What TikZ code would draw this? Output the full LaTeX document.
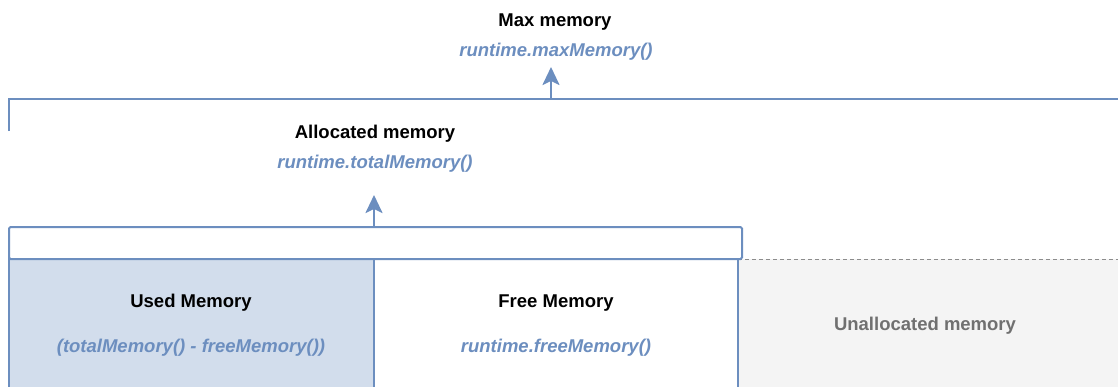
\documentclass[tikz,border=0pt]{standalone}
\usepackage{fontspec}
\setmainfont{Liberation Sans}
\usetikzlibrary{arrows.meta}
\definecolor{bstroke}{HTML}{6C8EBF}
\definecolor{bfill}{HTML}{D2DDEC}
\definecolor{gfill}{HTML}{F4F4F4}
\definecolor{gstroke}{HTML}{8C8C8C}
\definecolor{gtext}{HTML}{707070}
\tikzset{
  title/.style={font=\fontsize{18.5}{20}\selectfont\bfseries, text=black, inner sep=0pt},
  code/.style={font=\fontsize{18.5}{20}\selectfont\bfseries\itshape, text=bstroke, inner sep=0pt},
  line/.style={draw=bstroke, line width=2pt},
  uparrow/.style={draw=bstroke, line width=2.5pt, -{Stealth[length=18pt,width=17pt,inset=4pt]}},
  cell/.style={draw=bstroke, line width=1.5pt, minimum height=0pt}
}
\begin{document}
\begin{tikzpicture}[x=1pt,y=-1pt]
\useasboundingbox (0,0) rectangle (1118,386);
\clip (0,0) rectangle (1118,386);
% cells
\fill[gfill] (738,259) rectangle (1125,400);
\draw[gstroke, line width=1pt, dash pattern=on 4pt off 3pt] (738,259) -- (1125,259);
\path[cell, fill=bfill] (9,259) rectangle (374,400);
\path[cell, fill=white] (374,259) rectangle (738,400);
% allocated bracket box
\path[line, fill=white, rounded corners=1.5pt] (9,227) rectangle (742,259);
% max bracket
\draw[line] (9,131) -- (9,99) -- (1125,99);
% nodes
\node[title] (maxt) at (555,22) {Max memory};
\node[code] (maxc) at (556,52) {runtime.maxMemory()};
\node[title] (allt) at (375,134) {Allocated memory};
\node[code] (allc) at (375,164) {runtime.totalMemory()};
\node[title] (usedt) at (191,303) {Used Memory};
\node[code] (usedc) at (191,348) {(totalMemory() - freeMemory())};
\node[title] (freet) at (556,303) {Free Memory};
\node[code] (freec) at (556,348) {runtime.freeMemory()};
\node[font=\fontsize{18.5}{20}\selectfont\bfseries, text=gtext, inner sep=0pt] (unal) at (925,326) {Unallocated memory};
% arrows
\coordinate (maxbase) at (551,99);
\coordinate (maxtip) at (551,67);
\coordinate (allbase) at (374,227);
\coordinate (alltip) at (374,195);
\draw[uparrow] (maxbase) -- (maxtip);
\draw[uparrow] (allbase) -- (alltip);
\end{tikzpicture}
\end{document}
